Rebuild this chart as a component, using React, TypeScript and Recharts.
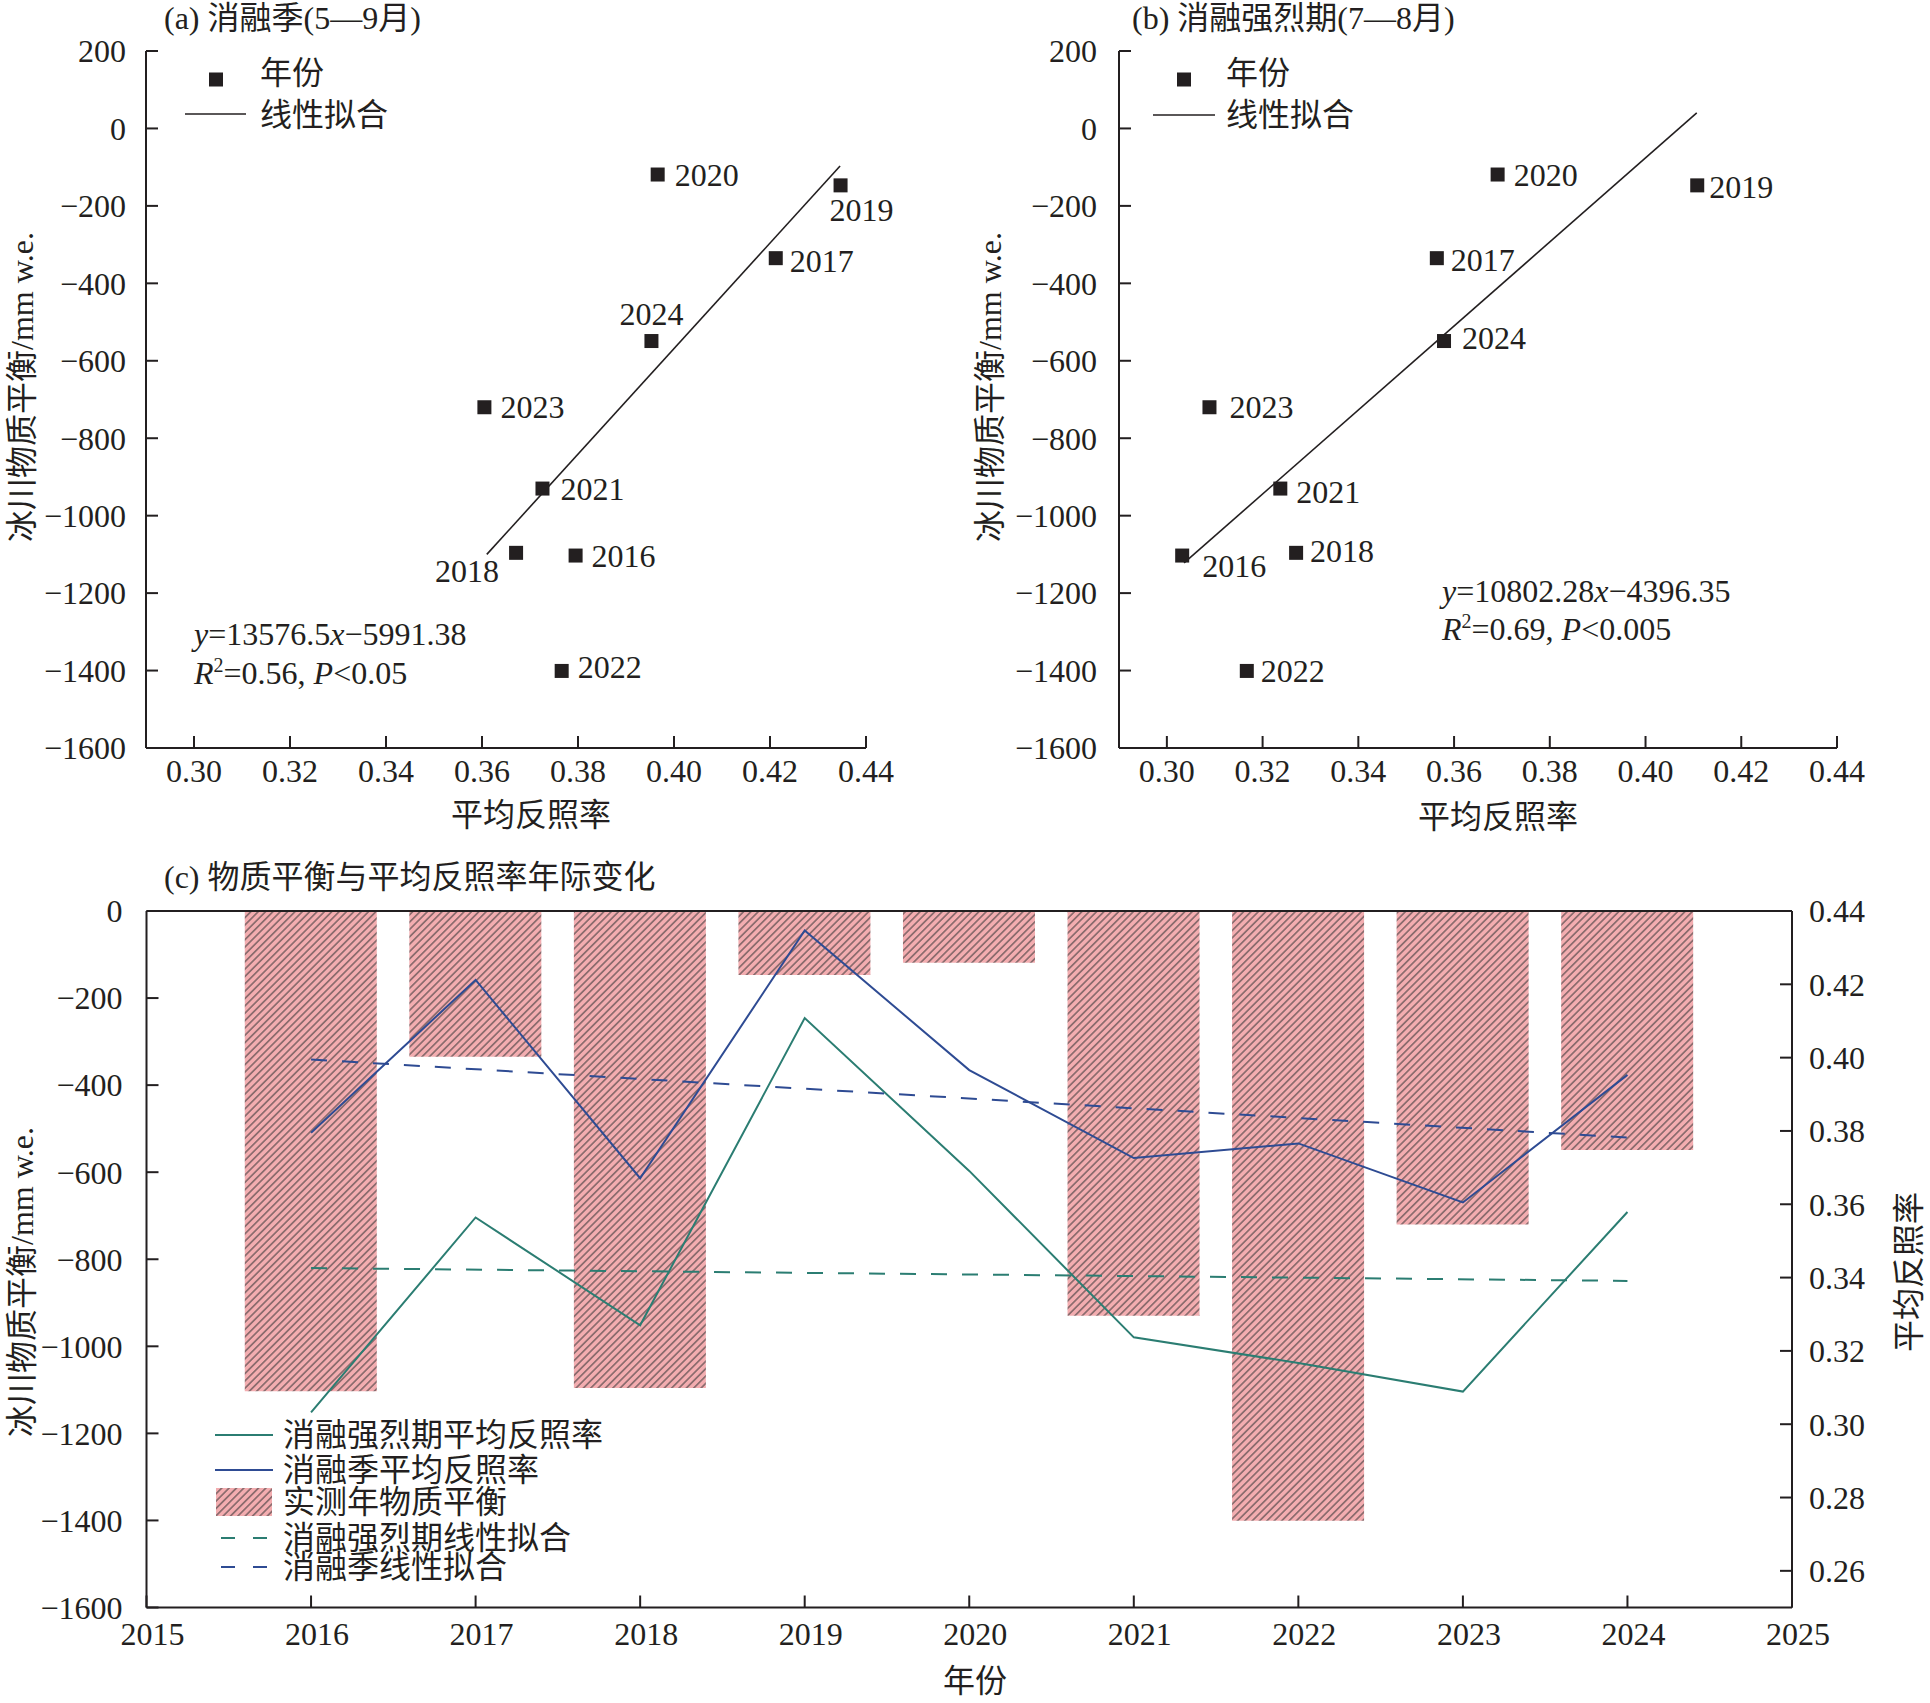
import React from "react"
import { ScatterChart, Scatter, ComposedChart, Bar, Line, XAxis, YAxis, ReferenceLine } from "recharts"

const FONT = '"Liberation Serif", "Times New Roman", "Noto Sans CJK SC", serif'
const INK = "#231f20"
const TEAL = "#2b7d72"
const BLUE = "#2e4b93"
const PINK = "#f3adb0"
const HATCH = "#6a5658"

// observed years and values
const years = [2016, 2017, 2018, 2019, 2020, 2021, 2022, 2023, 2024]
const massBalance = [-1103, -335, -1096, -147, -119, -930, -1401, -720, -549]
const albedoSeason = [0.3795, 0.4212, 0.3671, 0.4347, 0.3966, 0.3726, 0.3766, 0.3605, 0.3953]
const albedoIntense = [0.3032, 0.3564, 0.327, 0.4108, 0.3691, 0.3237, 0.3167, 0.3089, 0.3579]

// fitted lines (end points)
const fitSeasonX = [0.361, 0.4346]
const fitSeasonY = [-1100, -97]
const fitIntenseX = [0.3036, 0.4107]
const fitIntenseY = [-1122, 40]
const trendYears = [2016, 2024]
const trendSeason = [0.3995, 0.3782]
const trendIntense = [0.3426, 0.3391]

// ticks
const scatterXTicks = [0.3, 0.32, 0.34, 0.36, 0.38, 0.4, 0.42, 0.44]
const scatterYTicks = [-1600, -1400, -1200, -1000, -800, -600, -400, -200, 0, 200]
const yearTicks = [2015, 2016, 2017, 2018, 2019, 2020, 2021, 2022, 2023, 2024, 2025]
const mbTicks = [-1600, -1400, -1200, -1000, -800, -600, -400, -200, 0]
const albedoTicks = [0.26, 0.28, 0.3, 0.32, 0.34, 0.36, 0.38, 0.4, 0.42, 0.44]

// label placement per year: dx, dy, anchor
const labelPosA: Record<number, [number, number, string]> = {
  2016: [16, 0, "start"],
  2017: [14, 3, "start"],
  2018: [-17, 18, "end"],
  2019: [21, 25, "middle"],
  2020: [17, 0, "start"],
  2021: [18, 0, "start"],
  2022: [16, -4, "start"],
  2023: [16, 0, "start"],
  2024: [0, -27, "middle"],
}
const labelPosB: Record<number, [number, number, string]> = {
  2016: [20, 10, "start"],
  2017: [14, 2, "start"],
  2018: [14, -2, "start"],
  2019: [12, 2, "start"],
  2020: [16, 0, "start"],
  2021: [16, 3, "start"],
  2022: [14, 0, "start"],
  2023: [20, 0, "start"],
  2024: [18, -3, "start"],
}

const fmtInt = (v: number) => (v < 0 ? "\u2212" + Math.abs(v) : String(v))
const fmt2 = (v: number) => v.toFixed(2)
const tickStyle = { fill: INK, fontSize: 32, fontFamily: FONT }
const axisLine = { stroke: INK, strokeWidth: 2 }

function ScatterPanel({ left, width, plotLeft, plotRight, xs, ys, fitX, fitY, labelPos, yMargin }: any) {
  const points = years.map((year, i) => ({ x: xs[i], y: ys[i], year }))
  const fit = fitX.map((x: number, i: number) => ({ x, y: fitY[i] }))
  const square = (p: any) => {
    const [dx, dy, anchor] = labelPos[p.payload.year]
    return (
      <g>
        <rect x={p.cx - 7} y={p.cy - 7} width={14} height={14} fill={INK} />
        <text x={p.cx + dx} y={p.cy + dy} textAnchor={anchor} dominantBaseline="central" fontSize={32} fontFamily={FONT} fill={INK}>
          {p.payload.year}
        </text>
      </g>
    )
  }
  return (
    <div style={{ position: "absolute", left, top: 0 }}>
      <ScatterChart width={width} height={850} margin={{ top: 51, right: width - plotRight, bottom: 42, left: plotLeft - 100 }}>
        <XAxis type="number" dataKey="x" domain={[0.29, 0.44]} ticks={scatterXTicks} tickFormatter={fmt2}
          height={60} tick={tickStyle} axisLine={axisLine} tickLine={axisLine} tickSize={-12} tickMargin={23} />
        <YAxis type="number" dataKey="y" domain={[-1600, 200]} ticks={scatterYTicks} tickFormatter={fmtInt}
          width={100} tick={tickStyle} axisLine={axisLine} tickLine={axisLine} tickSize={-12} tickMargin={yMargin} />
        <Scatter data={fit} line={{ stroke: INK, strokeWidth: 1.6 }} shape={() => <g />} legendType="none" isAnimationActive={false} />
        <Scatter data={points} shape={square} isAnimationActive={false} />
      </ScatterChart>
    </div>
  )
}

function CombinedPanel() {
  const data = years.map((year, i) => ({ year, mb: massBalance[i], season: albedoSeason[i], intense: albedoIntense[i] }))
  const seasonFit = trendYears.map((year, i) => ({ year, v: trendSeason[i] }))
  const intenseFit = trendYears.map((year, i) => ({ year, v: trendIntense[i] }))
  return (
    <div style={{ position: "absolute", left: 0, top: 850 }}>
      <ComposedChart width={1930} height={853} data={data} margin={{ top: 61, right: 38, bottom: 35.5, left: 46.5 }}>
        <defs>
          <pattern id="hatch" patternUnits="userSpaceOnUse" width="5.2" height="5.2" patternTransform="rotate(45)">
            <rect width="5.2" height="5.2" fill={PINK} />
            <line x1="2.6" y1="0" x2="2.6" y2="5.2" stroke={HATCH} strokeWidth="1.3" />
          </pattern>
        </defs>
        <XAxis type="number" dataKey="year" domain={[2015, 2025]} ticks={yearTicks} height={60}
          tick={{ ...tickStyle, dx: 6 }} axisLine={axisLine} tickLine={axisLine} tickSize={-12} tickMargin={27} />
        <YAxis yAxisId="left" type="number" domain={[-1600, 0]} ticks={mbTicks} tickFormatter={fmtInt} width={100}
          tick={tickStyle} axisLine={axisLine} tickLine={axisLine} tickSize={-12} tickMargin={36} />
        <YAxis yAxisId="right" orientation="right" type="number" domain={[0.25, 0.44]} ticks={albedoTicks} tickFormatter={fmt2} width={100}
          tick={tickStyle} axisLine={axisLine} tickLine={axisLine} tickSize={-12} tickMargin={29} />
        <Bar yAxisId="left" dataKey="mb" fill="url(#hatch)" barSize={132} isAnimationActive={false} />
        <Line yAxisId="right" dataKey="intense" stroke={TEAL} strokeWidth={2} dot={false} isAnimationActive={false} />
        <Line yAxisId="right" dataKey="season" stroke={BLUE} strokeWidth={2} dot={false} isAnimationActive={false} />
        <Line yAxisId="right" data={intenseFit} dataKey="v" stroke={TEAL} strokeWidth={2} strokeDasharray="16 15" dot={false} isAnimationActive={false} />
        <Line yAxisId="right" data={seasonFit} dataKey="v" stroke={BLUE} strokeWidth={2} strokeDasharray="16 15" dot={false} isAnimationActive={false} />
        <ReferenceLine yAxisId="left" y={0} stroke={INK} strokeWidth={2} />
      </ComposedChart>
    </div>
  )
}

function Txt({ x, y, children, anchor = "start", base = "auto", rotate = 0 }: any) {
  return (
    <text transform={`translate(${x},${y}) rotate(${rotate})`} textAnchor={anchor} dominantBaseline={base}
      fontSize={32} fontFamily={FONT} fill={INK}>
      {children}
    </text>
  )
}

function Overlay() {
  const it = { fontStyle: "italic" }
  return (
    <svg width={1930} height={1703} style={{ position: "absolute", left: 0, top: 0, pointerEvents: "none" }}>
      <defs>
        <pattern id="hatchLegend" patternUnits="userSpaceOnUse" width="5.2" height="5.2" patternTransform="rotate(45)">
          <rect width="5.2" height="5.2" fill={PINK} />
          <line x1="2.6" y1="0" x2="2.6" y2="5.2" stroke={HATCH} strokeWidth="1.3" />
        </pattern>
      </defs>
      {/* panel (a) */}
      <Txt x={164} y={29}>(a) 消融季(5—9月)</Txt>
      <rect x={209} y={72.5} width={14} height={14} fill={INK} />
      <Txt x={260} y={73} base="central">年份</Txt>
      <line x1={185} x2={246} y1={114} y2={114} stroke={INK} strokeWidth={1.6} />
      <Txt x={260} y={115} base="central">线性拟合</Txt>
      <Txt x={194} y={645}><tspan style={it}>y</tspan>=13576.5<tspan style={it}>x</tspan>−5991.38</Txt>
      <Txt x={194} y={684}><tspan style={it}>R</tspan><tspan fontSize={20} dy={-12}>2</tspan><tspan dy={12}>=0.56, </tspan><tspan style={it}>P</tspan>&lt;0.05</Txt>
      <Txt x={531} y={815} anchor="middle" base="central">平均反照率</Txt>
      <Txt x={22} y={387} anchor="middle" base="central" rotate={-90}>冰川物质平衡/mm w.e.</Txt>

      {/* panel (b) */}
      <Txt x={1132} y={29}>(b) 消融强烈期(7—8月)</Txt>
      <rect x={1177} y={72.5} width={14} height={14} fill={INK} />
      <Txt x={1226} y={73} base="central">年份</Txt>
      <line x1={1153} x2={1215} y1={115} y2={115} stroke={INK} strokeWidth={1.6} />
      <Txt x={1226} y={115} base="central">线性拟合</Txt>
      <Txt x={1442} y={602}><tspan style={it}>y</tspan>=10802.28<tspan style={it}>x</tspan>−4396.35</Txt>
      <Txt x={1442} y={640}><tspan style={it}>R</tspan><tspan fontSize={20} dy={-12}>2</tspan><tspan dy={12}>=0.69, </tspan><tspan style={it}>P</tspan>&lt;0.005</Txt>
      <Txt x={1498} y={817} anchor="middle" base="central">平均反照率</Txt>
      <Txt x={990} y={387} anchor="middle" base="central" rotate={-90}>冰川物质平衡/mm w.e.</Txt>

      {/* panel (c) */}
      <Txt x={164} y={888}>(c) 物质平衡与平均反照率年际变化</Txt>
      <Txt x={975} y={1681} anchor="middle" base="central">年份</Txt>
      <Txt x={22} y={1282} anchor="middle" base="central" rotate={-90}>冰川物质平衡/mm w.e.</Txt>
      <Txt x={1909} y={1272} anchor="middle" base="central" rotate={-90}>平均反照率</Txt>
      <line x1={215} x2={273} y1={1435} y2={1435} stroke={TEAL} strokeWidth={2} />
      <Txt x={283} y={1435} base="central">消融强烈期平均反照率</Txt>
      <line x1={215} x2={273} y1={1470} y2={1470} stroke={BLUE} strokeWidth={2} />
      <Txt x={283} y={1470} base="central">消融季平均反照率</Txt>
      <rect x={216} y={1488} width={56} height={28} fill="url(#hatchLegend)" />
      <Txt x={283} y={1502} base="central">实测年物质平衡</Txt>
      <line x1={221} x2={272} y1={1538} y2={1538} stroke={TEAL} strokeWidth={2} strokeDasharray="14 18" />
      <Txt x={283} y={1538} base="central">消融强烈期线性拟合</Txt>
      <line x1={221} x2={272} y1={1567} y2={1567} stroke={BLUE} strokeWidth={2} strokeDasharray="14 18" />
      <Txt x={283} y={1567} base="central">消融季线性拟合</Txt>
    </svg>
  )
}

export default function App() {
  return (
    <div style={{ position: "absolute", left: 0, top: 0, width: 1930, height: 1703, background: "#fff", overflow: "hidden" }}>
      <ScatterPanel left={0} width={900} plotLeft={146} plotRight={866} xs={albedoSeason} ys={massBalance}
        fitX={fitSeasonX} fitY={fitSeasonY} labelPos={labelPosA} yMargin={32} />
      <ScatterPanel left={960} width={970} plotLeft={159} plotRight={877} xs={albedoIntense} ys={massBalance}
        fitX={fitIntenseX} fitY={fitIntenseY} labelPos={labelPosB} yMargin={34} />
      <CombinedPanel />
      <Overlay />
    </div>
  )
}
